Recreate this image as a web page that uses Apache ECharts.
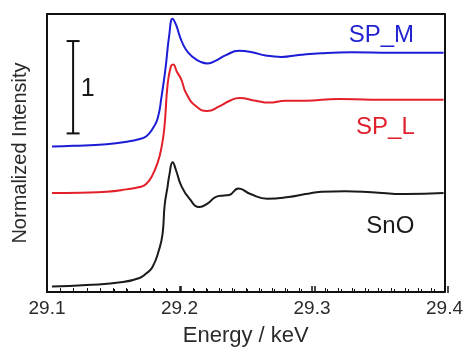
<!DOCTYPE html>
<html>
<head>
<meta charset="utf-8">
<script src="https://cdn.jsdelivr.net/npm/echarts@6/dist/echarts.min.js"></script>
<style>
  html, body { margin: 0; padding: 0; background: #fff; }
  #chart { width: 466px; height: 352px; }
</style>
</head>
<body>
<div id="chart"></div>
<script>
// spectra: [energy keV, normalized intensity (offset)]
const spM = [
  [29.1038, 1.56], [29.12, 1.567], [29.145, 1.585], [29.16, 1.61], [29.17, 1.64],
  [29.175, 1.67], [29.1795, 1.745], [29.1835, 1.86], [29.1865, 2.1], [29.1893, 2.38],
  [29.1923, 2.76], [29.1948, 2.93], [29.1975, 2.86], [29.2005, 2.73], [29.2048, 2.6],
  [29.21, 2.52], [29.2155, 2.47], [29.2213, 2.45], [29.2275, 2.48], [29.235, 2.54],
  [29.245, 2.585], [29.2548, 2.57], [29.265, 2.535], [29.277, 2.52], [29.29, 2.54],
  [29.307, 2.56], [29.33, 2.57], [29.36, 2.565], [29.3993, 2.565]
];
const spL = [
  [29.1038, 1.06], [29.125, 1.065], [29.145, 1.075], [29.16, 1.10], [29.17, 1.125],
  [29.175, 1.16], [29.1795, 1.25], [29.1838, 1.40], [29.186, 1.52], [29.1885, 1.75],
  [29.191, 2.22], [29.1935, 2.42], [29.1952, 2.44], [29.198, 2.36], [29.2013, 2.28],
  [29.205, 2.13], [29.2125, 1.99], [29.221, 1.94], [29.23, 1.99], [29.238, 2.05],
  [29.245, 2.08], [29.2575, 2.05], [29.2675, 2.03], [29.28, 2.05], [29.295, 2.05],
  [29.32, 2.07], [29.345, 2.06], [29.37, 2.06], [29.3993, 2.06]
];
const snO = [
  [29.1038, 0.06], [29.13, 0.075], [29.1572, 0.106], [29.1698, 0.15], [29.175, 0.2],
  [29.1795, 0.265], [29.1845, 0.45], [29.1872, 0.62], [29.1888, 0.93], [29.191, 1.13],
  [29.1923, 1.25], [29.1948, 1.39], [29.1975, 1.30], [29.2013, 1.14], [29.2075, 1.0],
  [29.215, 0.91], [29.2213, 0.95], [29.2275, 1.02], [29.2335, 1.035], [29.2375, 1.04],
  [29.2445, 1.11], [29.2535, 1.05], [29.2663, 1.0], [29.2823, 1.018], [29.295, 1.05],
  [29.3072, 1.075], [29.325, 1.08], [29.345, 1.07], [29.37, 1.05], [29.3993, 1.06]
];
// scale bar of one unit
const scaleBar = [[29.1197, 1.70], [29.1197, 2.69]];
const seriesNames = ['SP_M', 'SP_L', 'SnO'];
const labelCoords = [[29.3524, 2.755], [29.3554, 1.766], [29.3591, 0.702]];
const scaleLabel = { text: '1', coord: [29.1308, 2.18] };

const colors = ['#1c1cd6', '#e3202a', '#1a1a1a'];
const textColors = ['#2323d0', '#e0202c', '#1a1a1a'];
const font = '"Liberation Sans", Arial, sans-serif';

const chart = echarts.init(document.getElementById('chart'));

function spectrum(i, data) {
  return {
    name: seriesNames[i],
    type: 'line',
    data: data,
    showSymbol: false,
    smooth: 0.5,
    lineStyle: { color: colors[i], width: 2 },
    markPoint: {
      symbol: 'circle',
      symbolSize: 0,
      data: [{ coord: labelCoords[i] }],
      label: {
        show: true,
        position: 'inside',
        formatter: seriesNames[i],
        color: textColors[i],
        fontSize: 24,
        fontFamily: font
      }
    }
  };
}

const frameLine = { show: true, onZero: false, lineStyle: { color: '#111', width: 2 } };
const hidden = { show: false };

// thin strips along the bottom edge whose split lines act as inward ticks
function tickStrip(gridIndex) {
  return {
    gridIndex: gridIndex,
    type: 'value',
    min: 29.1, max: 29.4, interval: 0.1,
    axisLine: hidden,
    axisTick: hidden,
    axisLabel: hidden,
    minorTick: { show: false, splitNumber: 10 },
    splitLine: { show: gridIndex === 1, lineStyle: { color: '#111', width: 1.5 } },
    minorSplitLine: { show: gridIndex === 2, lineStyle: { color: '#111', width: 1 } }
  };
}
function stripY(gridIndex) {
  return { gridIndex: gridIndex, type: 'value', min: 0, max: 1, show: false, splitLine: hidden };
}

chart.setOption({
  animation: false,
  grid: [
    { left: 47, right: 18, top: 14, bottom: 59 },
    { left: 47, right: 18, bottom: 59, height: 7 },
    { left: 47, right: 18, bottom: 59, height: 4 }
  ],
  xAxis: [{
    type: 'value',
    position: 'bottom',
    min: 29.1, max: 29.4, interval: 0.1,
    axisLine: frameLine,
    axisTick: { show: true, inside: true, length: 6, lineStyle: { color: '#111', width: 1.5 } },
    minorTick: { show: true, splitNumber: 10, length: 4, lineStyle: { color: '#111', width: 1 } },
    splitLine: hidden,
    axisLabel: { fontSize: 19, color: '#2a2a2a', margin: 7, fontFamily: font },
    name: 'Energy / keV',
    nameLocation: 'middle',
    nameGap: 33,
    nameTextStyle: { fontSize: 22, color: '#2a2a2a', fontFamily: font }
  }, {
    type: 'value',
    position: 'top',
    min: 29.1, max: 29.4, interval: 0.1,
    axisLine: frameLine,
    axisTick: hidden,
    axisLabel: hidden,
    splitLine: hidden
  }, tickStrip(1), tickStrip(2)],
  yAxis: [{
    type: 'value',
    position: 'left',
    min: 0, max: 2.98,
    axisLine: frameLine,
    axisTick: hidden,
    axisLabel: hidden,
    splitLine: hidden,
    name: 'Normalized Intensity',
    nameLocation: 'middle',
    nameGap: 17,
    nameTextStyle: { fontSize: 20, color: '#2a2a2a', fontFamily: font }
  }, {
    type: 'value',
    position: 'right',
    min: 0, max: 2.98,
    axisLine: frameLine,
    axisTick: hidden,
    axisLabel: hidden,
    splitLine: hidden
  }, stripY(1), stripY(2)],
  series: [
    spectrum(0, spM),
    spectrum(1, spL),
    spectrum(2, snO),
    {
      type: 'line',
      data: scaleBar,
      symbol: 'rect',
      symbolSize: [13, 2],
      showSymbol: true,
      itemStyle: { color: '#111' },
      lineStyle: { color: '#111', width: 2 },
      markPoint: {
        symbol: 'circle',
        symbolSize: 0,
        data: [{ coord: scaleLabel.coord }],
        label: {
          show: true,
          position: 'inside',
          formatter: scaleLabel.text,
          color: '#1a1a1a',
          fontSize: 25,
          fontFamily: font
        }
      }
    }
  ]
});
</script>
</body>
</html>
